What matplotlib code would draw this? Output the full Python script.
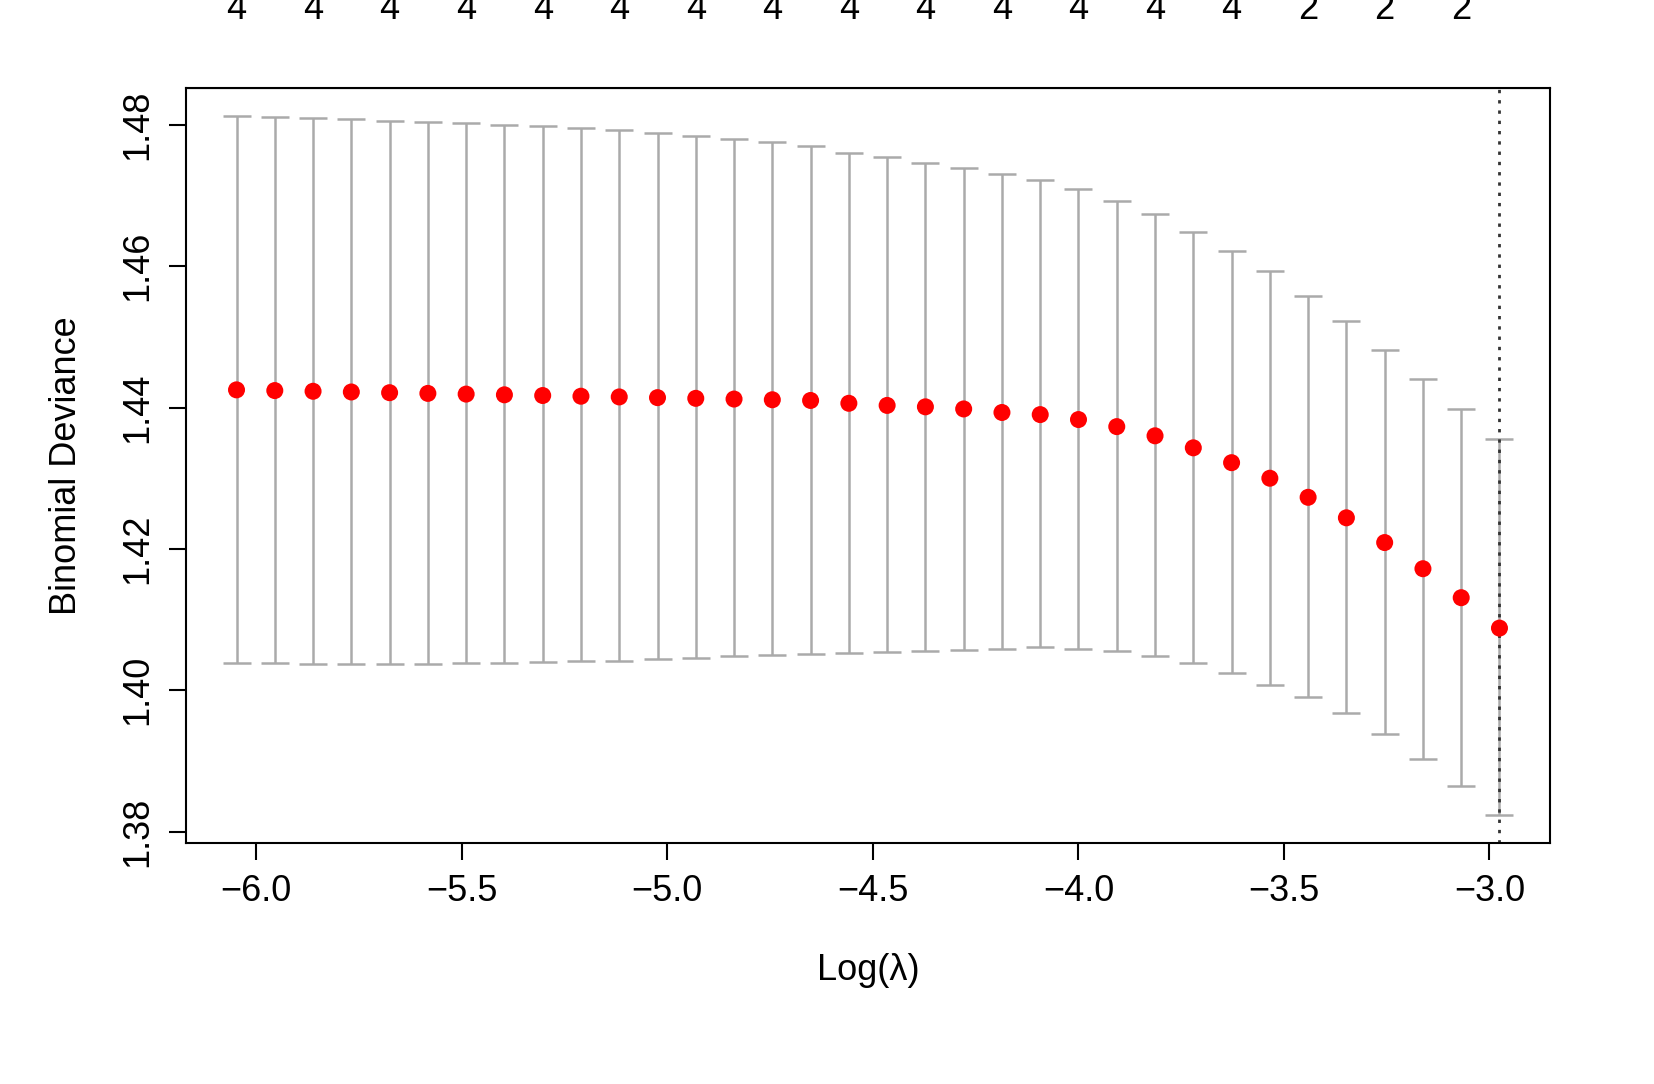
import matplotlib
matplotlib.use("Agg")
import matplotlib.pyplot as plt
import numpy as np

log_lambda_first = -6.048
log_lambda_step = 0.0931
cvm = [1.4425,1.4424,1.4423,1.4422,1.4421,1.4420,1.4419,1.4418,1.4417,1.4416,
       1.4415,1.4414,1.4413,1.4412,1.4411,1.4410,1.4406,1.4403,1.4401,1.4398,
       1.4393,1.4390,1.4383,1.4373,1.4360,1.4343,1.4322,1.4300,1.4273,1.4244,
       1.4209,1.4172,1.4131,1.4088]
cvup = [1.4812,1.4811,1.4810,1.4808,1.4806,1.4804,1.4802,1.4800,1.4798,1.4795,
        1.4792,1.4788,1.4784,1.4780,1.4775,1.4770,1.4760,1.4754,1.4746,1.4739,
        1.4731,1.4722,1.4709,1.4692,1.4674,1.4649,1.4622,1.4593,1.4558,1.4522,
        1.4481,1.4440,1.4398,1.4355]
cvlo = [1.4039,1.4038,1.4037,1.4037,1.4037,1.4037,1.4038,1.4039,1.4040,1.4041,
        1.4042,1.4044,1.4046,1.4048,1.4050,1.4052,1.4053,1.4054,1.4055,1.4057,
        1.4059,1.4061,1.4059,1.4055,1.4048,1.4038,1.4025,1.4008,1.3990,1.3968,
        1.3938,1.3903,1.3865,1.3824]
nzero = ["4"]*14 + ["2"]*3
xticks = [-6.0,-5.5,-5.0,-4.5,-4.0,-3.5,-3.0]
yticks = [1.38,1.40,1.42,1.44,1.46,1.48]

x = log_lambda_first + log_lambda_step*np.arange(len(cvm))
plt.rcParams["font.family"] = "Liberation Sans"
fig = plt.figure(figsize=(16.54,10.84), dpi=100)
ax = fig.add_axes([186/1654, 1-843/1084, (1550-186)/1654, (843-88)/1084])
cvm = np.array(cvm); cvup=np.array(cvup); cvlo=np.array(cvlo)
ax.errorbar(x, cvm, yerr=[cvm-cvlo, cvup-cvm], fmt="none", ecolor="#aaaaaa",
            elinewidth=1.8, capsize=10, capthick=1.8, zorder=1)
ax.scatter(x, cvm, s=150, color="red", zorder=3, edgecolors="none")
ax.axvline(x[-1], color="#333333", ls=(0,(1.2,2.5)), lw=2, zorder=2)
ax.set_xlim(x[0]-0.04*(x[-1]-x[0]), x[-1]+0.04*(x[-1]-x[0]))
ax.set_ylim(1.3784, 1.4852)
ax.set_xticks(xticks)
ax.set_xticklabels(["\u2212%.1f" % abs(v) for v in xticks])
ax.set_yticks(yticks)
ax.set_yticklabels(["%.2f" % v for v in yticks], rotation=90, va="center")
ax.tick_params(labelsize=26, length=12, width=1.5, pad=10)
for s in ax.spines.values(): s.set_linewidth(1.5)
ax.set_xlabel("Log(\u03bb)", fontsize=26, labelpad=32)
ax.set_ylabel("Binomial Deviance", fontsize=26, labelpad=26)
top = ax.secondary_xaxis("top")
top.set_xticks(x[::2])
top.set_xticklabels(nzero)
top.tick_params(length=0, labelsize=26, pad=44)
fig.savefig("out.png", dpi=100)
